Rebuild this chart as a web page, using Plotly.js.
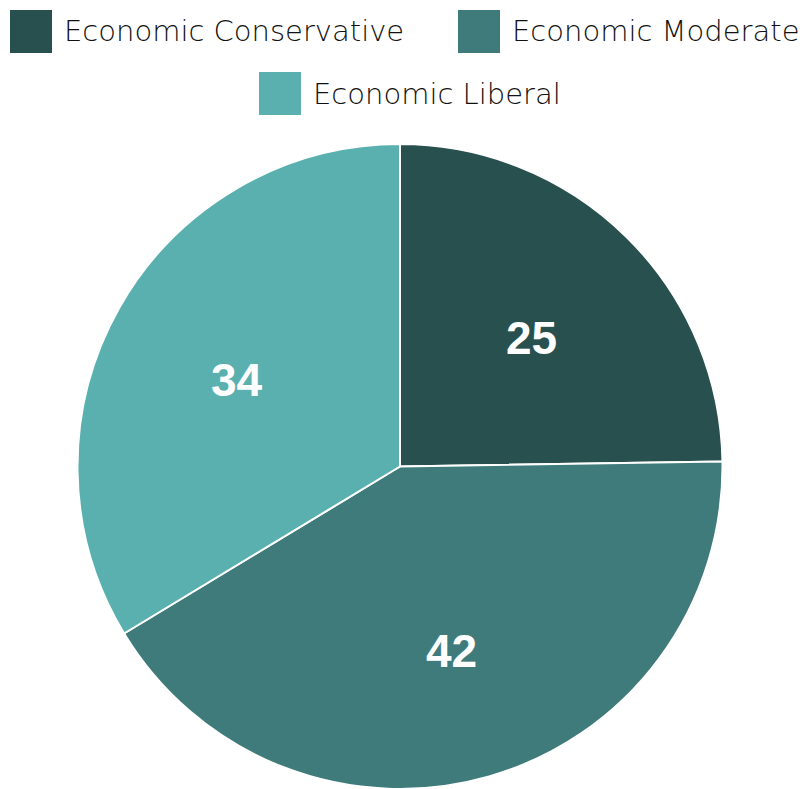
<!DOCTYPE html>
<html>
<head>
<meta charset="utf-8">
<script src="https://cdn.plot.ly/plotly-3.0.1.min.js"></script>
<style>html,body{margin:0;padding:0;background:#fff;}#chart{width:809px;height:789px;}</style>
</head>
<body>
<div id="chart"></div>
<script>
const categories = ["Economic Conservative", "Economic Moderate", "Economic Liberal"];
const values = [25, 42, 34];
const colors = ["#27504F", "#3E7B7A", "#5AB0AF"];

const W = 809, H = 789;
// pie geometry (domain in px)
const pieLeft = 77, pieRight = 723, pieTop = 144;
const domX = [pieLeft / W, pieRight / W];
const domY = [0, 1 - pieTop / H];

// legend layout (custom, large square swatches)
const legendRows = [
  {x: 10, y: 10, w: 42, h: 43, tx: 62},
  {x: 458, y: 10, w: 42, h: 43, tx: 510},
  {x: 259, y: 72, w: 42, h: 43, tx: 311}
];
const shapes = [], annotations = [];
categories.forEach((c, i) => {
  const r = legendRows[i];
  shapes.push({type: "rect", xref: "paper", yref: "paper",
    x0: r.x / W, x1: (r.x + r.w) / W, y0: 1 - (r.y + r.h) / H, y1: 1 - r.y / H,
    fillcolor: colors[i], line: {width: 0}});
  annotations.push({text: c, xref: "paper", yref: "paper", x: r.tx / W, y: 1 - (r.y + r.h / 2) / H,
    xanchor: "left", yanchor: "middle", showarrow: false,
    font: {family: "DejaVu Sans, sans-serif", size: 29, color: "#111111", weight: 300}});
});

// value labels placed at the mid-angle of each slice (derived from values)
const total = values.reduce((a, b) => a + b, 0);
const R = Math.min(pieRight - pieLeft, H - pieTop) / 2;
const cx = (pieLeft + pieRight) / 2, cy = H - R;
let cum = 0;
values.forEach((v) => {
  const mid = (cum + v / 2) / total * 2 * Math.PI;
  cum += v;
  const rr = 0.58 * R;
  const px = cx + rr * Math.sin(mid), py = cy - rr * Math.cos(mid);
  annotations.push({text: String(v), xref: "paper", yref: "paper", x: px / W, y: 1 - py / H,
    xanchor: "center", yanchor: "middle", showarrow: false, yshift: -5,
    font: {family: "Liberation Sans, Arial, sans-serif", size: 46, color: "#ffffff", weight: "bold"}});
});

const trace = {
  type: "pie",
  labels: categories,
  values: values,
  sort: false,
  direction: "clockwise",
  rotation: 0,
  marker: {colors: colors, line: {color: "#ffffff", width: 2}},
  textinfo: "none",
  hoverinfo: "none",
  showlegend: false,
  domain: {x: domX, y: domY}
};

Plotly.newPlot("chart", [trace], {
  width: W, height: H,
  margin: {l: 0, r: 0, t: 0, b: 0},
  paper_bgcolor: "#ffffff",
  showlegend: false,
  shapes: shapes,
  annotations: annotations
}, {staticPlot: true});
</script>
</body>
</html>
